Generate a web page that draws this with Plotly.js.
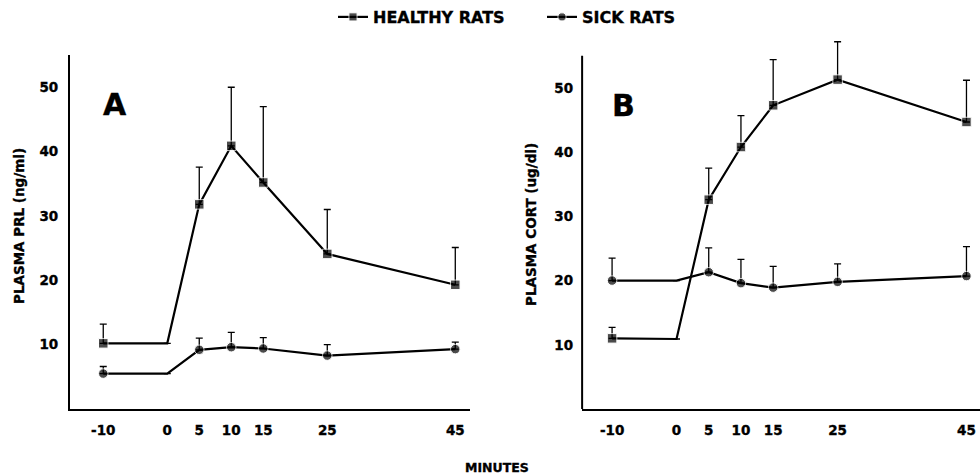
<!DOCTYPE html>
<html>
<head>
<meta charset="utf-8">
<script src="https://cdn.plot.ly/plotly-3.0.1.min.js"></script>
<style>
html,body{margin:0;padding:0;background:#fff}
#chart{width:980px;height:475px}
#chart text{stroke:#000;stroke-width:0.35px}
</style>
</head>
<body>
<div id="chart"></div>
<script>
// Time points (minutes)
const minutes = [-10, 0, 5, 10, 15, 25, 45];
const xTickVals = [-10, 0, 5, 10, 15, 25, 45];
const yTickVals = [10, 20, 30, 40, 50];

// Panel A: plasma PRL (ng/ml)
const prlHealthy = [10.2, 10.2, 31.8, 40.9, 35.2, 24.1, 19.3];
const prlHealthyErr = [3.0, NaN, 5.8, 9.1, 11.8, 6.9, 5.8];
const prlSick = [5.5, 5.5, 9.2, 9.6, 9.4, 8.3, 9.3];
const prlSickErr = [1.1, NaN, 1.8, 2.3, 1.7, 1.7, 1.1];

// Panel B: plasma CORT (ug/dl)
const cortHealthy = [11.0, 10.9, 32.6, 40.8, 47.3, 51.3, 44.7];
const cortHealthyErr = [1.7, NaN, 4.9, 4.9, 7.1, 5.9, 6.5];
const cortSick = [20.0, 20.0, 21.3, 19.6, 18.9, 19.8, 20.7];
const cortSickErr = [3.5, NaN, 3.8, 3.7, 3.3, 2.8, 4.6];

const zeros = minutes.map(() => 0);

const FONT = 'DejaVu Sans, Liberation Sans, sans-serif';

function trace(y, err, symbol, name, xa, ya, showLegend) {
  const size = 9.5;
  return {
    x: minutes, y: y, type: 'scatter', mode: 'lines+markers', name: name,
    xaxis: xa, yaxis: ya, showlegend: showLegend, legendgroup: name,
    cliponaxis: false,
    line: {color: '#000', width: 2.2},
    marker: {symbol: symbol, color: '#000', size: minutes.map(m => m === 0 ? 0 : size)},
    error_y: {type: 'data', symmetric: false, array: err, arrayminus: zeros,
              color: '#000', thickness: 1.3, width: 3.5}
  };
}

const data = [
  trace(prlHealthy, prlHealthyErr, 'square', 'HEALTHY RATS', 'x', 'y', true),
  trace(prlSick, prlSickErr, 'circle', 'SICK RATS', 'x', 'y', true),
  trace(cortHealthy, cortHealthyErr, 'square', 'HEALTHY RATS', 'x2', 'y2', false),
  trace(cortSick, cortSickErr, 'circle', 'SICK RATS', 'x2', 'y2', false)
];

const axisCommon = {
  showline: true, linecolor: '#000', linewidth: 2, showgrid: false, zeroline: false,
  ticks: '', tickfont: {family: FONT, size: 13.5, color: '#000', weight: 700}, fixedrange: true
};

const layout = {
  width: 980, height: 475,
  margin: {l: 0, r: 0, t: 0, b: 0},
  paper_bgcolor: '#fff', plot_bgcolor: '#fff',
  font: {family: FONT, color: '#000'},
  showlegend: true,
  legend: {orientation: 'h', x: 0.3398, xanchor: 'left', y: 1.0, yanchor: 'top',
           font: {family: FONT, size: 16, color: '#000', weight: 700},
           itemwidth: 30, entrywidth: 164, entrywidthmode: 'pixels',
           tracegroupgap: 0, bgcolor: 'rgba(0,0,0,0)'},
  xaxis: Object.assign({}, axisCommon, {domain: [0.0714, 0.4796], range: [-15.2, 47.3],
         tickmode: 'array', tickvals: xTickVals, ticktext: xTickVals.map(String), anchor: 'y', ticklabelstandoff: 8}),
  yaxis: Object.assign({}, axisCommon, {domain: [0.139, 0.884], range: [0, 55],
         tickmode: 'array', tickvals: yTickVals, ticktext: yTickVals.map(String), anchor: 'x', ticklabelstandoff: 7}),
  xaxis2: Object.assign({}, axisCommon, {domain: [0.594, 1.0], range: [-14.65, 47.1],
         tickmode: 'array', tickvals: xTickVals, ticktext: xTickVals.map(String), anchor: 'y2', ticklabelstandoff: 8}),
  // taller range so the 25-min error bar can rise above the drawn axis line
  yaxis2: Object.assign({}, axisCommon, {domain: [0.139, 0.9297], range: [0, 58.5], showline: false,
         tickmode: 'array', tickvals: yTickVals, ticktext: yTickVals.map(String), anchor: 'x2', ticklabelstandoff: 8}),
  shapes: [
    {type: 'line', xref: 'x2 domain', yref: 'y2', x0: 0, x1: 0, y0: 0, y1: 55,
     line: {color: '#000', width: 2}}
  ],
  annotations: [
    {text: 'A', xref: 'x', yref: 'y', x: -10.4, y: 47.3, showarrow: false, xanchor: 'left', yanchor: 'middle',
     font: {family: FONT, size: 30, color: '#000', weight: 700}},
    {text: 'B', xref: 'x2', yref: 'y2', x: -10.4, y: 47.3, showarrow: false, xanchor: 'left', yanchor: 'middle',
     font: {family: FONT, size: 30, color: '#000', weight: 700}},
    {text: 'PLASMA PRL (ng/ml)', xref: 'paper', yref: 'paper', x: 19/980, y: 1 - 226/475,
     textangle: -90, showarrow: false, xanchor: 'center', yanchor: 'middle',
     font: {family: FONT, size: 13.5, color: '#000', weight: 700}},
    {text: 'PLASMA CORT (ug/dl)', xref: 'paper', yref: 'paper', x: 531/980, y: 1 - 225/475,
     textangle: -90, showarrow: false, xanchor: 'center', yanchor: 'middle',
     font: {family: FONT, size: 13.5, color: '#000', weight: 700}},
    {text: 'MINUTES', xref: 'paper', yref: 'paper', x: 497/980, y: 1 - 467/475,
     showarrow: false, xanchor: 'center', yanchor: 'middle',
     font: {family: FONT, size: 12.5, color: '#000', weight: 700}}
  ]
};

Plotly.newPlot('chart', data, layout, {staticPlot: true, displayModeBar: false});
</script>
</body>
</html>
